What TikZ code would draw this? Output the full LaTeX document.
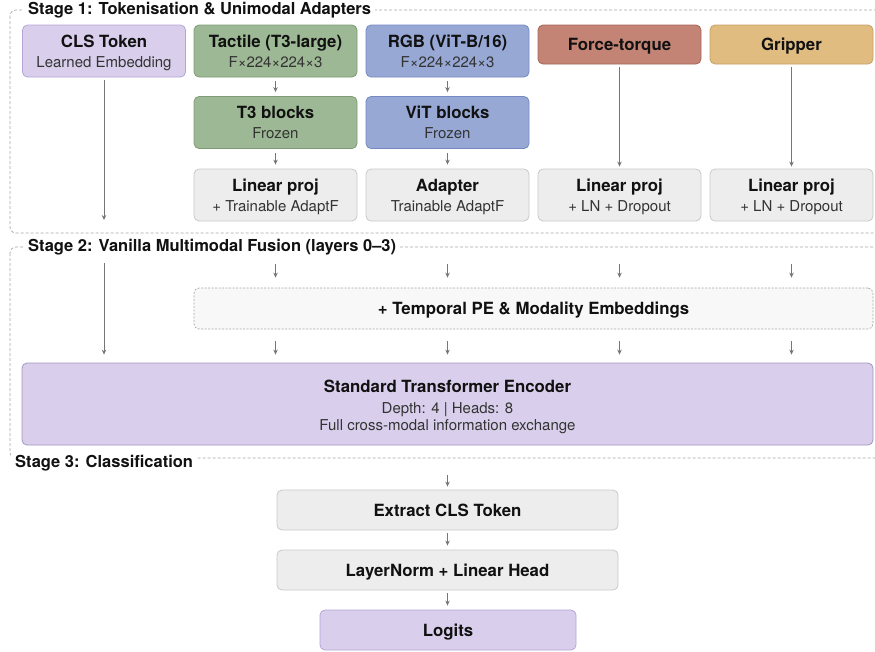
\documentclass[tikz,border=0pt]{standalone}
\usepackage{fontspec}
\setmainfont{TeX Gyre Heros}
\usetikzlibrary{arrows.meta}
\definecolor{clsfill}{HTML}{D9CFEC}
\definecolor{clsdraw}{HTML}{B3A6D6}
\definecolor{grnfill}{HTML}{9DB894}
\definecolor{grndraw}{HTML}{7E9C76}
\definecolor{blufill}{HTML}{97A8D5}
\definecolor{bludraw}{HTML}{7589C3}
\definecolor{ftfill}{HTML}{C38475}
\definecolor{ftdraw}{HTML}{A86558}
\definecolor{grfill}{HTML}{E0BC81}
\definecolor{grdraw}{HTML}{C8A063}
\definecolor{gryfill}{HTML}{EDEDED}
\definecolor{grydraw}{HTML}{C9C9C9}
\definecolor{pefill}{HTML}{F8F8F8}
\definecolor{framec}{HTML}{A8A8A8}
\definecolor{arrc}{HTML}{767676}
\definecolor{subc}{HTML}{333333}
\definecolor{txtc}{HTML}{111111}
\newcommand{\ttl}[1]{{\fontsize{16.8}{20}\selectfont\bfseries #1}}
\newcommand{\sbt}[1]{{\fontsize{15}{20}\selectfont\color{subc}#1}}
\begin{document}
\begin{tikzpicture}[x=1pt,y=-1pt,
  box/.style={draw, rounded corners=5pt, line width=0.8pt, align=center,
    text=txtc, minimum width=163pt, minimum height=52pt, inner sep=0pt,
    text height=16pt, text depth=4pt,
    font=\fontsize{15}{20}\selectfont},
  two/.style={text height=36pt},
  short/.style={minimum height=39pt},
  gry/.style={box, fill=gryfill, draw=grydraw},
  frame/.style={draw=framec, dashed, line width=0.7pt, dash pattern=on 3pt off 2pt, rounded corners=6pt},
  stagelbl/.style={fill=white, inner xsep=4pt, inner ysep=2pt, anchor=west,
    font=\fontsize{16.5}{18}\selectfont\bfseries, text=txtc},
  arr/.style={draw=arrc, line width=1pt, -{Stealth[length=5pt,width=4.5pt]}}
]
\useasboundingbox (0,0) rectangle (875,651);

% Stage frames
\draw[frame] (10,10) rectangle (895,233);
\draw[frame] (10,247) rectangle (895,458);
\node[stagelbl] (s1) at (24,10) {Stage 1: Tokenisation \& Unimodal Adapters};
\node[stagelbl] (s2) at (24,247) {Stage 2: Vanilla Multimodal Fusion (layers 0–3)};
\node[stagelbl, inner ysep=4pt] (s3) at (11,463) {Stage 3: Classification};

% Stage 1
\node[box, two, fill=clsfill, draw=clsdraw] (cls) at (104,51) {\ttl{CLS Token}\\\sbt{Learned Embedding}};
\node[box, two, fill=grnfill, draw=grndraw] (tac) at (275.5,51) {\ttl{Tactile (T3-large)}\\\sbt{F×224×224×3}};
\node[box, two, fill=blufill, draw=bludraw] (rgb) at (447.5,51) {\ttl{RGB (ViT-B/16)}\\\sbt{F×224×224×3}};
\node[box, short, fill=ftfill, draw=ftdraw] (ft) at (619.5,44.5) {\ttl{Force-torque}};
\node[box, short, fill=grfill, draw=grdraw] (grp) at (791.5,44.5) {\ttl{Gripper}};

\node[box, two, fill=grnfill, draw=grndraw] (t3) at (275.5,122.5) {\ttl{T3 blocks}\\\sbt{Frozen}};
\node[box, two, fill=blufill, draw=bludraw] (vit) at (447.5,122.5) {\ttl{ViT blocks}\\\sbt{Frozen}};

\node[gry, two] (lp1) at (275.5,195) {\ttl{Linear proj}\\\sbt{+ Trainable AdaptF}};
\node[gry, two] (adp) at (447.5,195) {\ttl{Adapter}\\\sbt{Trainable AdaptF}};
\node[gry, two] (lp2) at (619.5,195) {\ttl{Linear proj}\\\sbt{+ LN + Dropout}};
\node[gry, two] (lp3) at (791.5,195) {\ttl{Linear proj}\\\sbt{+ LN + Dropout}};

\coordinate (clsend) at (104,220);
\draw[arr, shorten <=3pt] (cls) -- (clsend);
\draw[arr, shorten <=4pt, shorten >=4pt] (tac) -- (t3);
\draw[arr, shorten <=4pt, shorten >=4pt] (t3) -- (lp1);
\draw[arr, shorten <=4pt, shorten >=4pt] (rgb) -- (vit);
\draw[arr, shorten <=4pt, shorten >=4pt] (vit) -- (adp);
\draw[arr, shorten <=3pt, shorten >=2pt] (ft) -- (lp2);
\draw[arr, shorten <=3pt, shorten >=2pt] (grp) -- (lp3);

% Stage 2
\node[box, fill=pefill, draw=framec, dashed, dash pattern=on 2pt off 1.5pt, line width=0.7pt,
  minimum width=679pt, minimum height=41pt] (pe) at (533.5,308.5) {\ttl{+ Temporal PE \& Modality Embeddings}};
\node[box, fill=clsfill, draw=clsdraw!90!black, minimum width=851pt, minimum height=82pt,
  text height=56pt, font=\fontsize{15}{17}\selectfont] (enc) at (447.5,404)
  {\ttl{Standard Transformer Encoder}\\[4pt]\sbt{Depth: 4 | Heads: 8}\\\sbt{Full cross-modal information exchange}};

\coordinate (c0) at (104,263);
\coordinate (c1) at (275.5,264);
\coordinate (c2) at (447.5,264);
\coordinate (c3) at (619.5,264);
\coordinate (c4) at (791.5,264);
\draw[arr, shorten >=8pt] (c0) -- (enc.north -| c0);
\foreach \c in {c1,c2,c3,c4}{
  \draw[arr, shorten >=10pt] (\c) -- (pe.north -| \c);
  \draw[arr, shorten <=12pt, shorten >=8pt] (pe.south -| \c) -- (enc.north -| \c);
}

% Stage 3
\node[gry, minimum width=341pt, minimum height=40pt] (ext) at (447.5,510) {\ttl{Extract CLS Token}};
\node[gry, minimum width=341pt, minimum height=40pt] (lnh) at (447.5,570) {\ttl{LayerNorm + Linear Head}};
\node[box, fill=clsfill, draw=clsdraw, minimum width=256pt, minimum height=40pt] (lg) at (448,630) {\ttl{Logits}};
\coordinate (c5) at (447.5,475);
\draw[arr, shorten >=3pt] (c5) -- (ext.north);
\draw[arr, shorten <=3pt, shorten >=4pt] (ext) -- (lnh);
\draw[arr, shorten <=3pt, shorten >=4pt] (lnh) -- (lnh.south |- lg.north);
\end{tikzpicture}
\end{document}
